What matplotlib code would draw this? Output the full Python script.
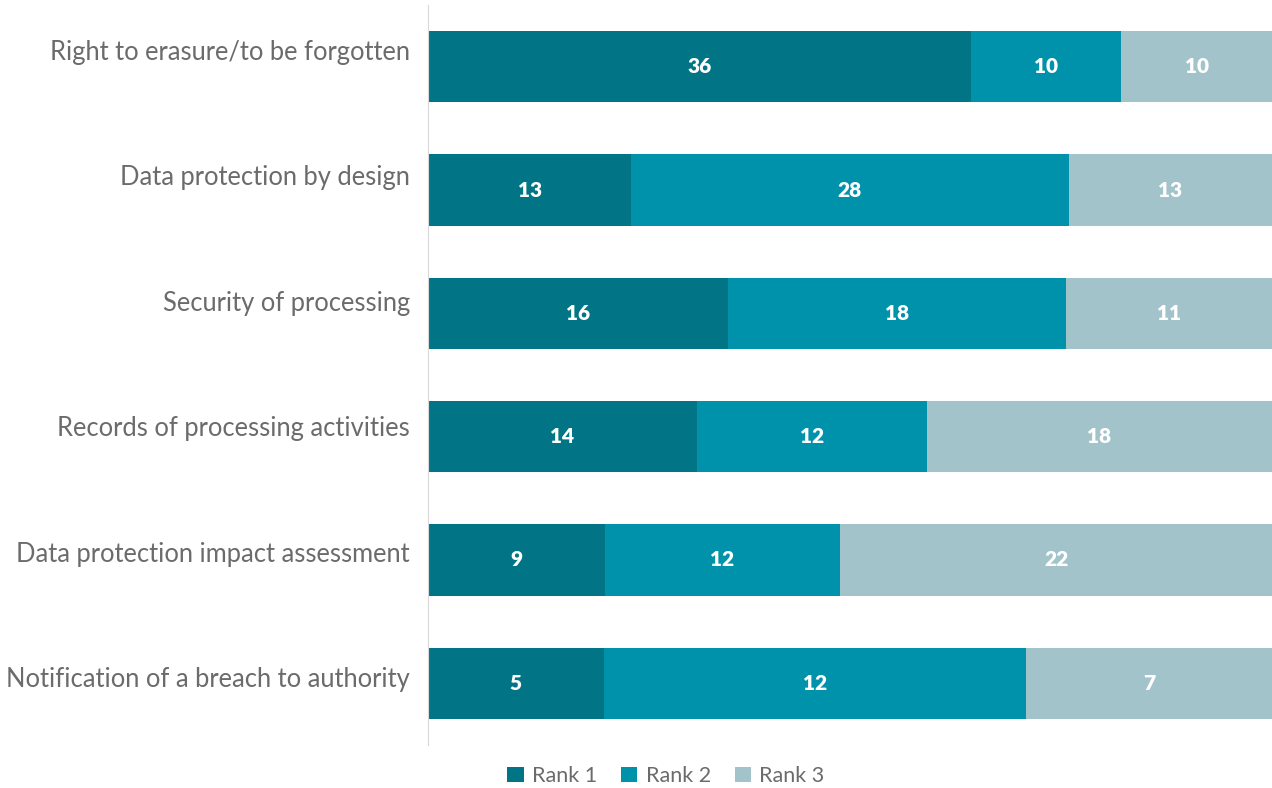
import matplotlib.pyplot as plt
import matplotlib.transforms as mtransforms
import numpy as np

categories = ["Right to erasure/to be forgotten", "Data protection by design",
              "Security of processing", "Records of processing activities",
              "Data protection impact assessment", "Notification of a breach to authority"]
rank1 = [36, 13, 16, 14, 9, 5]
rank2 = [10, 28, 18, 12, 12, 12]
rank3 = [10, 13, 11, 18, 22, 7]
series_names = ["Rank 1", "Rank 2", "Rank 3"]
colors = ["#017585", "#0092AA", "#A3C3CB"]

plt.rcParams['font.family'] = ['Lato', 'DejaVu Sans']

fig = plt.figure(figsize=(12.72, 7.88), dpi=100)
ax = fig.add_axes([428/1272, 1-745/788, 1-428/1272, 740/788])

data = np.array([rank1, rank2, rank3], dtype=float)
totals = data.sum(axis=0)
shares = data / totals * 100
y = np.arange(len(categories))
left = np.zeros(len(categories))
for k in range(3):
    bars = ax.barh(y, shares[k], left=left, height=0.58, color=colors[k], label=series_names[k])
    for i, b in enumerate(bars):
        ax.text(left[i] + shares[k][i] / 2, y[i], str(int(data[k][i])), ha="center", va="center",
                color="white", fontsize=15, fontweight="heavy")
    left += shares[k]

ax.set_xlim(0, 100)
ax.set_ylim(5.5, -0.5)
ax.set_yticks(y)
ax.set_yticklabels(categories, fontsize=18.4, color="#6b6b6b")
ax.tick_params(axis="y", length=0, pad=13)
ax.set_xticks([])
for s in ["top", "right", "bottom"]:
    ax.spines[s].set_visible(False)
ax.spines["left"].set_color("#d9d9d9")

# category labels sit above the bar centre, more so near the top
for i, lbl in enumerate(ax.get_yticklabels()):
    offset = mtransforms.ScaledTranslation(0, (17 - 2.2 * i) / 100, fig.dpi_scale_trans)
    lbl.set_transform(lbl.get_transform() + offset)

fig.legend(loc="center", bbox_to_anchor=(666/1272, 1-776/788), ncol=3, frameon=False,
           fontsize=15.5, handlelength=0.75, handleheight=0.75, handletextpad=0.4, columnspacing=1.1,
           labelcolor="#6b6b6b")

fig.savefig("out.png", dpi=100)
